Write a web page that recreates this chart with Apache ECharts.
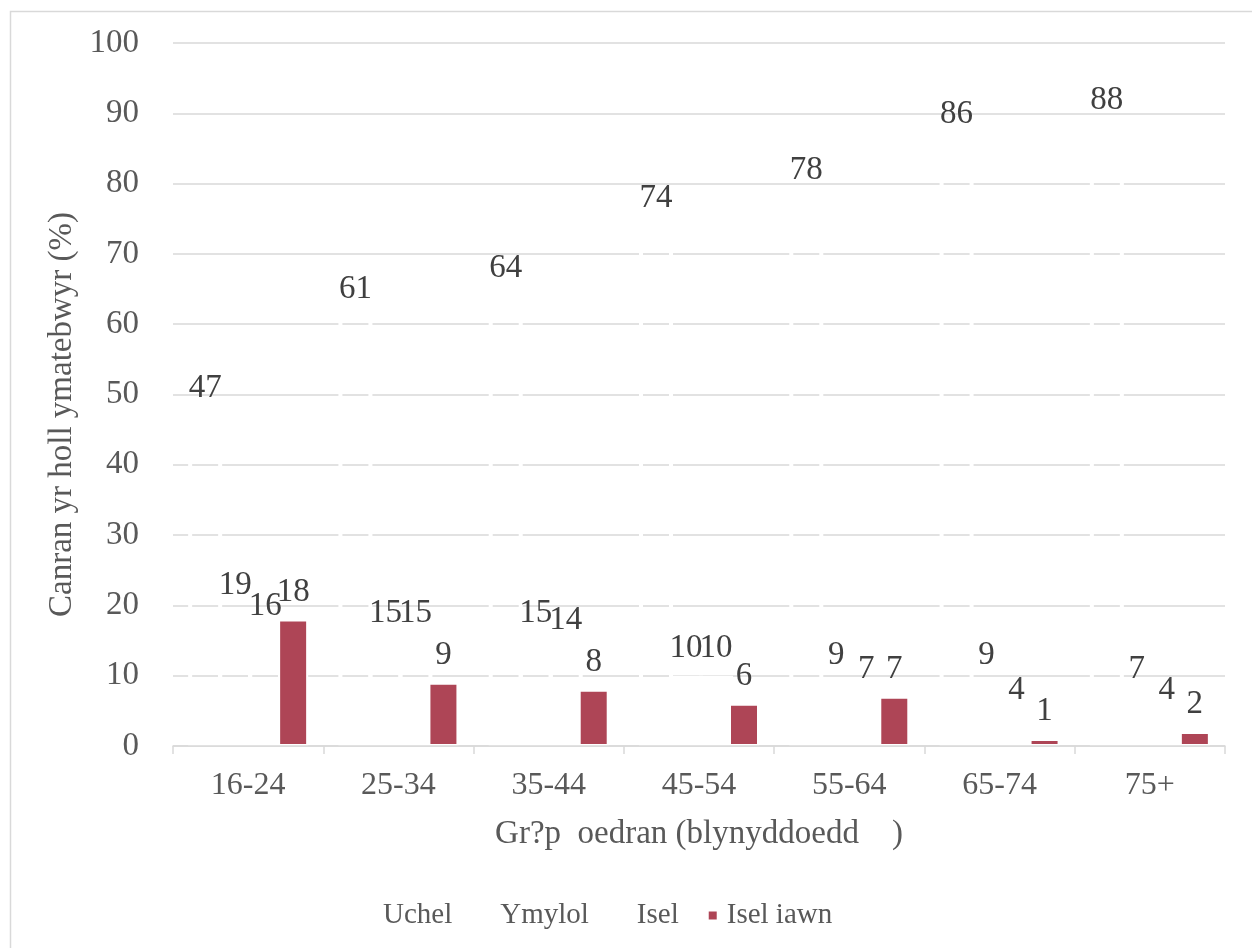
<!DOCTYPE html>
<html>
<head>
<meta charset="utf-8">
<script src="https://cdn.jsdelivr.net/npm/echarts@6/dist/echarts.min.js"></script>
<style>html,body{margin:0;padding:0;background:#fff;}#c{width:1252px;height:948px;}</style>
</head>
<body>
<div id="c"></div>
<script>
const categories = ['16-24', '25-34', '35-44', '45-54', '55-64', '65-74', '75+'];
const seriesNames = ['Uchel', 'Ymylol', 'Isel', 'Isel iawn'];
const uchel = [47, 61, 64, 74, 78, 86, 88];
const ymylol = [19, 15, 15, 10, 9, 9, 7];
const isel = [16, 15, 14, 10, 7, 4, 4];
const iselIawn = [18, 9, 8, 6, 7, 1, 2];
const yTicks = [0, 100, 10];
const xAxisName = 'Gr?p  oedran (blynyddoedd    )';
const yAxisName = 'Canran yr holl ymatebwyr (%)';

const FONT = 'Liberation Serif';
const chart = echarts.init(document.getElementById('c'), null, {renderer: 'canvas'});

function mk(name, data, color, width, border) {
  return {
    name: name,
    type: 'bar',
    data: data,
    barWidth: width,
    barGap: (-4 / 34 * 100) + '%',
    itemStyle: {color: color, borderColor: '#ffffff', borderWidth: border},
    emphasis: {disabled: true},
    label: {
      show: true, position: 'top', distance: 11,
      fontFamily: FONT, fontSize: 33, color: '#404040'
    }
  };
}

chart.setOption({
  animation: false,
  backgroundColor: '#ffffff',
  graphic: [{
    type: 'rect', left: 8, top: 9, z: -10,
    shape: {x: 0, y: 0, width: 1300, height: 1000},
    style: {fill: 'none', stroke: '#d9d9d9', lineWidth: 1.5}
  }],
  grid: {left: 173, right: 27, top: 43, bottom: 202, containLabel: false},
  legend: {
    top: 896, left: 358,
    itemWidth: 10, itemHeight: 10, itemGap: 28,
    icon: 'rect',
    textStyle: {fontFamily: FONT, fontSize: 29, color: '#595959', padding: [0, 0, 0, 4]},
    data: seriesNames
  },
  xAxis: {
    type: 'category',
    data: categories,
    z: 10,
    name: xAxisName,
    nameLocation: 'middle',
    nameGap: 72,
    nameTextStyle: {fontFamily: FONT, fontSize: 33, color: '#595959'},
    axisLine: {lineStyle: {color: '#d9d9d9', width: 1.5}},
    axisTick: {show: true, length: 8, lineStyle: {color: '#d9d9d9', width: 1.5}},
    axisLabel: {fontFamily: FONT, fontSize: 32, color: '#595959', margin: 24}
  },
  yAxis: {
    type: 'value',
    min: yTicks[0], max: yTicks[1], interval: yTicks[2],
    name: yAxisName,
    nameLocation: 'middle',
    nameGap: 93,
    nameTextStyle: {fontFamily: FONT, fontSize: 33, color: '#595959', padding: [0, 40, 0, 0]},
    axisLine: {show: false},
    axisTick: {show: false},
    splitLine: {lineStyle: {color: '#d9d9d9', width: 1.5}},
    axisLabel: {fontFamily: FONT, fontSize: 33, color: '#595959', margin: 34}
  },
  series: [
    mk(seriesNames[0], uchel, 'rgba(255,255,255,0)', 34, 4),
    mk(seriesNames[1], ymylol, 'rgba(255,255,255,0)', 34, 4),
    mk(seriesNames[2], isel, 'rgba(255,255,255,0)', 34, 4),
    mk(seriesNames[3], iselIawn, '#AE4556', 30, 2)
  ]
});
</script>
</body>
</html>
